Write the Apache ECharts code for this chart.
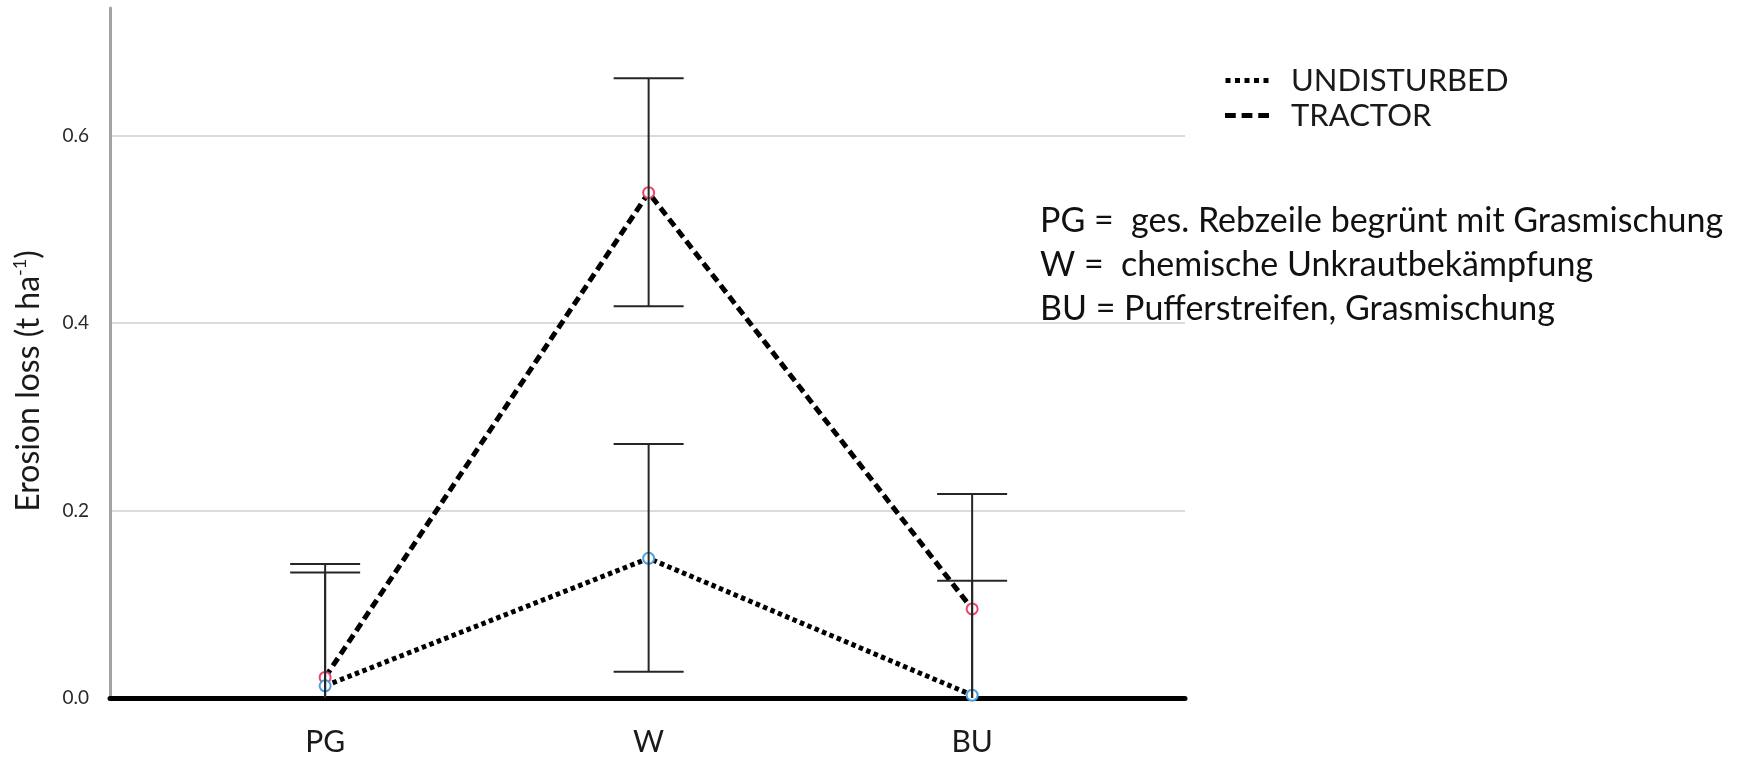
<!DOCTYPE html>
<html>
<head>
<meta charset="utf-8">
<script src="https://cdn.jsdelivr.net/npm/echarts@6/dist/echarts.min.js"></script>
<style>
html,body{margin:0;padding:0;background:#fff;}
#chart{width:1748px;height:757px;}
</style>
</head>
<body>
<div id="chart"></div>
<script>
// ---- data ----
const categories = ['PG', 'W', 'BU'];
const seriesNames = ['UNDISTURBED', 'TRACTOR'];
const undisturbedMean = [0.013, 0.149, 0.003];
const undisturbedLow  = [-0.108, 0.028, -0.119];
const undisturbedHigh = [0.134, 0.271, 0.125];
const tractorMean = [0.022, 0.539, 0.095];
const tractorLow  = [-0.099, 0.418, -0.0275];
const tractorHigh = [0.143, 0.661, 0.2175];
const yTicks = [0, 0.2, 0.4, 0.6];
const yTickLabels = ['0.0', '0.2', '0.4', '0.6'];
const yMax = 0.736;
const xMin = -0.665, xMax = 2.658;
const notes = [
  'PG =  ges. Rebzeile begrünt mit Grasmischung',
  'W =  chemische Unkrautbekämpfung',
  'BU = Pufferstreifen, Grasmischung'
];

const FONT = 'Lato';
const chart = echarts.init(document.getElementById('chart'), null, {renderer: 'canvas'});

function pts(means) { return categories.map((c, i) => [i, means[i]]); }
function errs(lo, hi) { return categories.map((c, i) => [i, lo[i], hi[i]]); }

function errRender(params, api) {
  const x = api.value(0);
  const lo = api.coord([x, api.value(1)]);
  const hi = api.coord([x, api.value(2)]);
  const half = 35;
  const st = {stroke: '#262626', lineWidth: 2};
  return {
    type: 'group',
    children: [
      {type: 'line', shape: {x1: hi[0], y1: hi[1], x2: lo[0], y2: lo[1]}, style: st},
      {type: 'line', shape: {x1: hi[0] - half, y1: hi[1], x2: hi[0] + half, y2: hi[1]}, style: st},
      {type: 'line', shape: {x1: lo[0] - half, y1: lo[1], x2: lo[0] + half, y2: lo[1]}, style: st}
    ]
  };
}

const dotIcon = 'path://M0,0h5v5h-5z M9.5,0h5v5h-5z M19,0h5v5h-5z M28.5,0h5v5h-5z M38,0h5v5h-5z';
const dashIcon = 'path://M0,0h11v5h-11z M17,0h11v5h-11z M34,0h11v5h-11z';

const option = {
  backgroundColor: '#fff',
  animation: false,
  grid: {left: 110, right: 563, top: 8, bottom: 59, containLabel: false},
  legend: {
    orient: 'vertical',
    left: 1220,
    top: 59,
    itemWidth: 44,
    itemHeight: 5,
    itemGap: 2,
    textStyle: {fontFamily: FONT, fontSize: 31, color: '#1a1a1a', lineHeight: 33, padding: [0, 0, 0, 17]},
    data: [
      {name: seriesNames[0], icon: dotIcon, itemStyle: {color: '#000', borderWidth: 0}},
      {name: seriesNames[1], icon: dashIcon, itemStyle: {color: '#000', borderWidth: 0}}
    ]
  },
  xAxis: {
    type: 'value',
    min: xMin,
    max: xMax,
    axisLine: {show: true, lineStyle: {color: '#000', width: 5}},
    axisTick: {show: false},
    splitLine: {show: false},
    axisLabel: {
      customValues: [0, 1, 2],
      formatter: v => categories[Math.round(v)] || '',
      fontFamily: FONT, fontSize: 30, color: '#1a1a1a', margin: 29
    }
  },
  yAxis: {
    type: 'value',
    min: 0,
    max: yMax,
    interval: 0.2,
    axisLine: {show: true, onZero: false, lineStyle: {color: '#a3a3a3', width: 3}},
    axisTick: {show: false, customValues: yTicks},
    splitLine: {show: true, showMinLine: false, lineStyle: {color: '#cfcfcf', width: 1.5}},
    axisLabel: {
      customValues: yTicks,
      formatter: v => { const k = yTicks.findIndex(t => Math.abs(t - v) < 1e-6); return k >= 0 ? yTickLabels[k] : ''; },
      fontFamily: FONT, fontSize: 19, color: '#2a2a2a', margin: 21,
      verticalAlign: 'middle', padding: [0, 0, 12, 0]
    }
  },
  graphic: [
    {
      type: 'text', x: 29, y: 381, rotation: Math.PI / 2,
      style: {
        text: '{a|Erosion loss (t ha}{s|-1}{a|)}',
        align: 'center', verticalAlign: 'middle',
        rich: {
          a: {fontFamily: FONT, fontSize: 32, fill: '#1a1a1a', lineHeight: 36},
          s: {fontFamily: FONT, fontSize: 18, fill: '#1a1a1a', lineHeight: 36, verticalAlign: 'top', padding: [0, 0, 12, 0]}
        }
      }
    },
    {type: 'text', x: 1040, y: 221, style: {text: notes[0], fontFamily: FONT, fontSize: 34, fill: '#111', align: 'left', verticalAlign: 'middle'}},
    {type: 'text', x: 1040, y: 265, style: {text: notes[1], fontFamily: FONT, fontSize: 34, fill: '#111', align: 'left', verticalAlign: 'middle'}},
    {type: 'text', x: 1040, y: 309, style: {text: notes[2], fontFamily: FONT, fontSize: 34, fill: '#111', align: 'left', verticalAlign: 'middle'}}
  ],
  series: [
    {
      name: seriesNames[1], type: 'line', data: pts(tractorMean), z: 2,
      symbol: 'emptyCircle', symbolSize: 11,
      itemStyle: {color: '#e8456a', borderWidth: 2},
      lineStyle: {color: '#000', width: 5, type: [9, 5], cap: 'butt'}
    },
    {
      name: seriesNames[0], type: 'line', data: pts(undisturbedMean), z: 2,
      symbol: 'emptyCircle', symbolSize: 11,
      itemStyle: {color: '#4a9fe0', borderWidth: 2},
      lineStyle: {color: '#000', width: 5, type: [4.5, 3.5], cap: 'butt'}
    },
    {type: 'custom', name: 'tractorCI', data: errs(tractorLow, tractorHigh), renderItem: errRender, clip: true, z: 3, silent: true},
    {type: 'custom', name: 'undisturbedCI', data: errs(undisturbedLow, undisturbedHigh), renderItem: errRender, clip: true, z: 3, silent: true}
  ]
};
chart.setOption(option);
</script>
</body>
</html>
